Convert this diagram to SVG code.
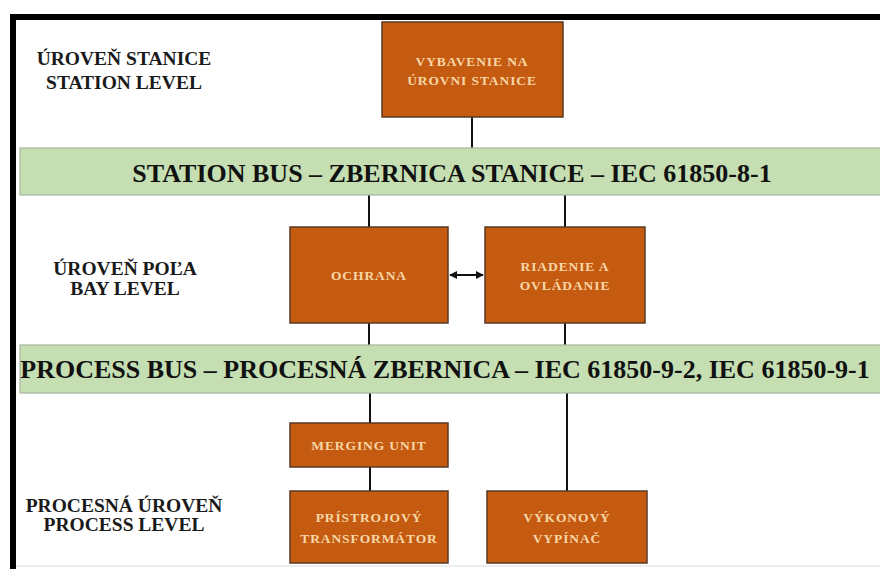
<svg xmlns="http://www.w3.org/2000/svg" width="880" height="569" viewBox="0 0 880 569">
<defs>
<style>
.frame{stroke:#000;stroke-width:6;fill:none}
.band{fill:#c5dfb3;stroke:#a7b59e;stroke-width:1.2}
.bandtxt{font-family:"Liberation Serif",serif;font-weight:bold;font-size:26px;fill:#111;text-anchor:middle}
.lvl{font-family:"Liberation Serif",serif;font-weight:bold;font-size:19.5px;fill:#1a1a1a;text-anchor:middle}
.box{fill:#c55a11;stroke:#5a3a24;stroke-width:1.5}
.btxt{font-family:"Liberation Serif",serif;font-weight:bold;font-size:13.5px;letter-spacing:0.9px;fill:#f7d7a6;text-anchor:middle}
.conn{stroke:#111;stroke-width:2;fill:none}
</style>
<marker id="ah" viewBox="0 0 10 10" refX="9" refY="5" markerWidth="4" markerHeight="4" orient="auto-start-reverse">
<path d="M0,0 L10,5 L0,10 z" fill="#111"/>
</marker>
</defs>
<rect width="880" height="569" fill="#fff"/>
<g id="frame">
<path class="frame" d="M13,569 V17 H880"/>
<line x1="16" y1="566" x2="880" y2="566" stroke="#ddd" stroke-width="1"/>
</g>
<g id="labels">
<text class="lvl" x="124" y="65">ÚROVEŇ STANICE</text>
<text class="lvl" x="124" y="89">STATION LEVEL</text>
<text class="lvl" x="125" y="275">ÚROVEŇ POĽA</text>
<text class="lvl" x="125" y="295">BAY LEVEL</text>
<text class="lvl" x="124" y="512">PROCESNÁ ÚROVEŇ</text>
<text class="lvl" x="124" y="531">PROCESS LEVEL</text>
</g>
<g id="connectors">
<line class="conn" x1="472" y1="117" x2="472" y2="148"/>
<line class="conn" x1="369" y1="195" x2="369" y2="227"/>
<line class="conn" x1="565" y1="195" x2="565" y2="227"/>
<line class="conn" x1="369" y1="323" x2="369" y2="345"/>
<line class="conn" x1="565" y1="323" x2="565" y2="345"/>
<line class="conn" x1="370" y1="393" x2="370" y2="423"/>
<line class="conn" x1="370" y1="467" x2="370" y2="491"/>
<line class="conn" x1="567" y1="393" x2="567" y2="491"/>
<line class="conn" x1="450" y1="275" x2="483" y2="275" marker-start="url(#ah)" marker-end="url(#ah)"/>
</g>
<g id="station-bus">
<rect class="band" x="20" y="148" width="862" height="47"/>
<text class="bandtxt" x="452" y="182">STATION BUS – ZBERNICA STANICE – IEC 61850-8-1</text>
</g>
<g id="process-bus">
<rect class="band" x="20" y="345" width="862" height="48"/>
<text class="bandtxt" x="445" y="378">PROCESS BUS – PROCESNÁ ZBERNICA – IEC 61850-9-2, IEC 61850-9-1</text>
</g>
<g id="vybavenie">
<rect class="box" x="382" y="22" width="181" height="95"/>
<text class="btxt" x="472" y="66">VYBAVENIE NA</text>
<text class="btxt" x="472" y="85">ÚROVNI STANICE</text>
</g>
<g id="ochrana">
<rect class="box" x="290" y="227" width="158" height="96"/>
<text class="btxt" x="369" y="280">OCHRANA</text>
</g>
<g id="riadenie">
<rect class="box" x="485" y="227" width="160" height="96"/>
<text class="btxt" x="565" y="271">RIADENIE A</text>
<text class="btxt" x="565" y="290">OVLÁDANIE</text>
</g>
<g id="merging-unit">
<rect class="box" x="290" y="423" width="158" height="44"/>
<text class="btxt" x="369" y="450">MERGING UNIT</text>
</g>
<g id="pristrojovy">
<rect class="box" x="290" y="491" width="158" height="72"/>
<text class="btxt" x="369" y="522">PRÍSTROJOVÝ</text>
<text class="btxt" x="369" y="543">TRANSFORMÁTOR</text>
</g>
<g id="vykonovy">
<rect class="box" x="487" y="491" width="160" height="72"/>
<text class="btxt" x="567" y="522">VÝKONOVÝ</text>
<text class="btxt" x="567" y="543">VYPÍNAČ</text>
</g>
</svg>
